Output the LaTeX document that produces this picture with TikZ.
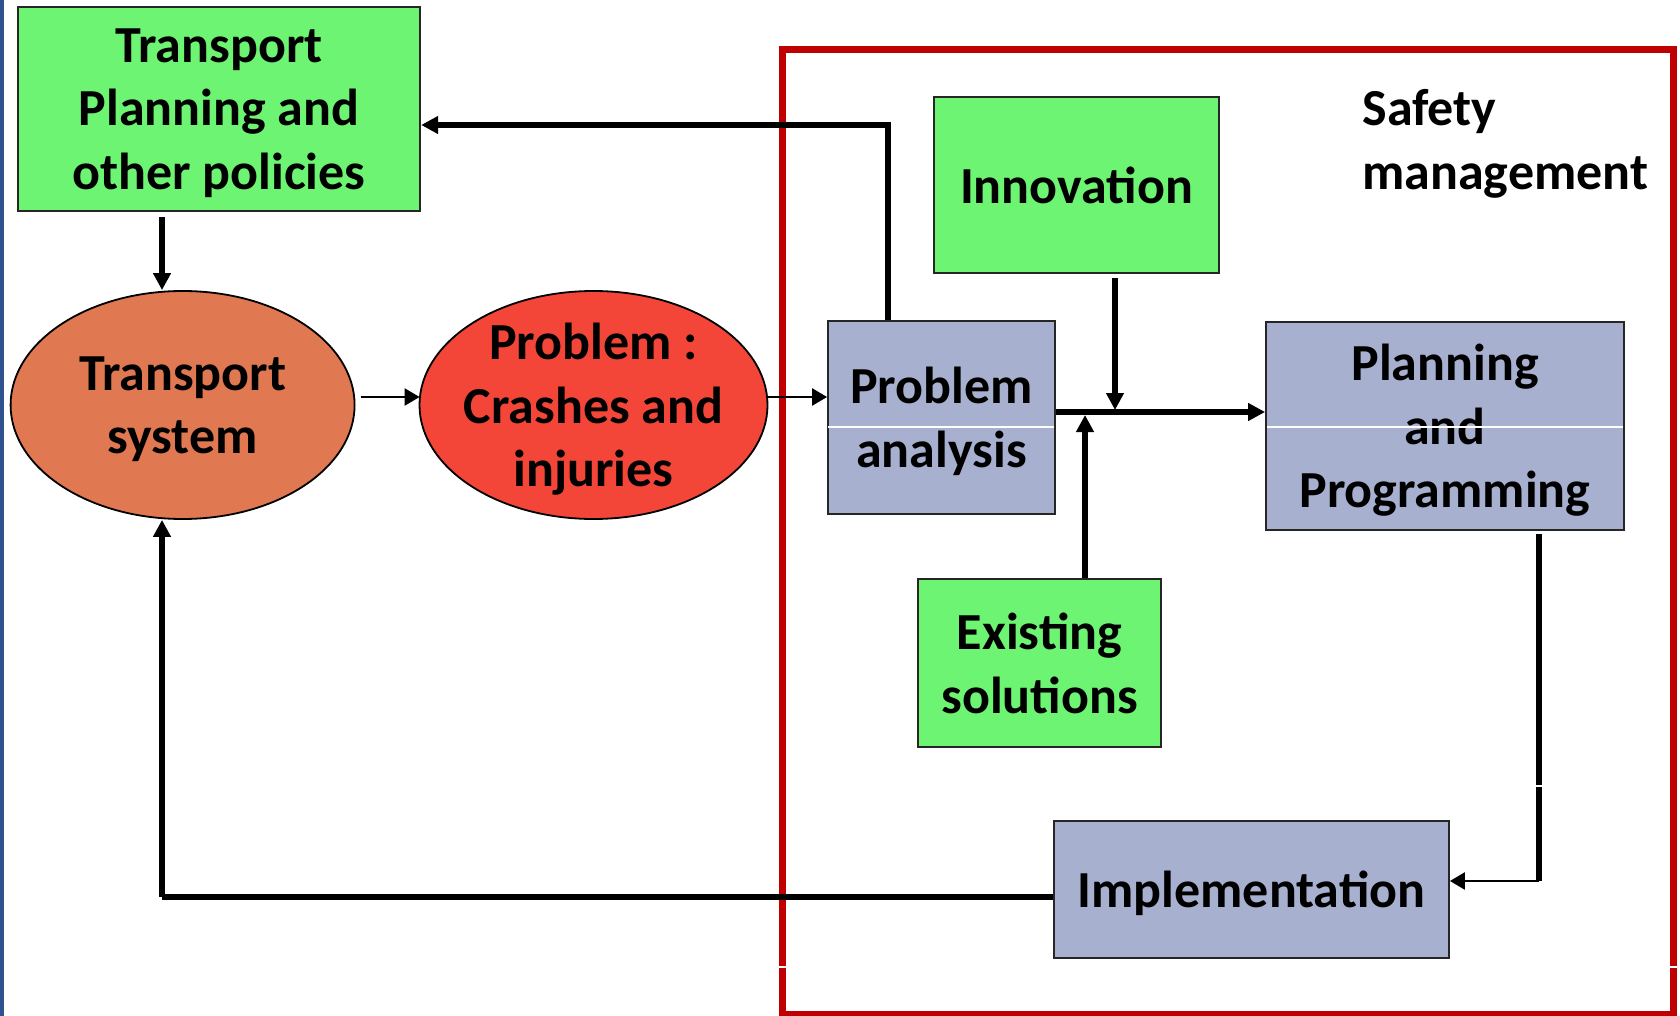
\documentclass[tikz,border=0pt]{standalone}
\usepackage{fontspec}
\setmainfont{Carlito}
\usetikzlibrary{arrows.meta,shapes.geometric,calc}
\definecolor{boxgreen}{RGB}{108,244,114}
\definecolor{boxblue}{RGB}{168,176,208}
\definecolor{ellorange}{RGB}{224,120,82}
\definecolor{ellred}{RGB}{244,70,56}
\definecolor{frame}{RGB}{192,0,0}
\definecolor{stripe}{RGB}{47,82,143}
\begin{document}
\begin{tikzpicture}[x=0.5pt,y=-0.5pt,
  txt/.style={font=\fontsize{26}{31.75}\selectfont\bfseries, align=center, text depth=0pt, inner sep=0pt},
  box/.style={txt, draw=black!85, line width=0.9pt},
  ell/.style={ellipse, draw=black, line width=0.9pt, inner sep=0pt},
  tip/.style={-{Triangle[width=8.5pt,length=8.5pt]}},
  tipthin/.style={-{Triangle[width=8.5pt,length=7.5pt]}},
  thickln/.style={line width=3pt},
  medln/.style={line width=2.6pt},
  thinln/.style={line width=1.2pt},
  artifact/.style={white, line width=0.7pt}]
\useasboundingbox (0,0) rectangle (1680,1016);
\fill[white] (0,0) rectangle (1680,1016);
\fill[stripe] (0,0) rectangle (4,1016);

% safety management frame
\draw[frame, line width=3.5pt] (782.5,50) rectangle (1673,1014);

% nodes
\node[box, fill=boxgreen, minimum width=201.25pt, minimum height=102pt] (tp) at (219,109) {Transport\\Planning and\\other policies};
\node[ell, fill=ellorange, minimum width=172pt, minimum height=114pt] (ts) at (182.6,405) {};
\node[txt] (tst) at (ts) {Transport\\system};
\node[ell, fill=ellred, minimum width=174pt, minimum height=114pt] (pr) at (593.5,405) {};
\node[txt] (prt) at (pr) {Problem :\\Crashes and\\injuries};
\node[box, fill=boxblue, minimum width=113.5pt, minimum height=96.5pt] (pa) at (941.5,417.5) {Problem\\analysis};
\node[box, fill=boxgreen, minimum width=142.5pt, minimum height=88pt] (in) at (1076.5,185) {Innovation};
\node[box, fill=boxblue, minimum width=179pt, minimum height=104pt] (pp) at (1445,426) {Planning\\and\\Programming};
\node[box, fill=boxgreen, minimum width=121.5pt, minimum height=84pt] (es) at (1039.5,663) {Existing\\solutions};
\node[box, fill=boxblue, minimum width=197.5pt, minimum height=68.5pt] (im) at (1251.5,889.5) {Implementation};
\node[txt, align=left, anchor=north west] (sm) at (1362,89) {Safety\\management};

% guide coordinates
\coordinate (xa) at (162,0);
\coordinate (fb) at (888,125);
\coordinate (jy) at (0,412);
\coordinate (ix) at (1115,0);
\coordinate (ex) at (1085,0);
\coordinate (pc) at (1539,881);
\coordinate (bl) at (162,897);
\coordinate (ya) at (0,397);
\coordinate (wy) at (0,427);

% connectors
\draw[medln, tip] ($(tp.south -| xa)+(0,5)$) -- (ts.north -| xa);
\draw[thinln, tipthin] ($(ts.east |- ya)+(5,0)$) -- ($(pr.west |- ya)+(1,0)$);
\draw[thinln, tipthin] (pr.east |- ya) -- (pa.west |- ya);
\draw[medln, tip] (pa.north -| fb) -- (fb) -- (fb -| tp.east);
\draw[thickln, tip] (pa.east |- jy) -- (pp.west |- jy);
\draw[medln, tip] ($(in.south -| ix)+(0,4)$) -- ($(ix |- jy)+(0,-2)$);
\draw[medln, tip] (es.north -| ex) -- ($(ex |- jy)+(0,3)$);
\draw[medln] ($(pp.south -| pc)+(0,3)$) -- (pc);
\draw[thinln, tipthin] (pc) -- (pc -| im.east);
\draw[thickln] (im.west |- bl) -- (bl);
\draw[medln, tip] (bl) -- (ts.south -| xa);

% thin white artefacts of the original slide
\draw[artifact] ($(pa.west |- wy)+(1,0)$) -- ($(pa.east |- wy)+(-2,0)$);
\draw[artifact] ($(pp.west |- wy)+(2,0)$) -- ($(pp.east |- wy)+(-2,0)$);
\draw[artifact] (1533,786) -- (1546,786);
\draw[artifact] (777,967) -- (788,967);
\draw[artifact] (1667,967) -- (1679,967);
\end{tikzpicture}
\end{document}
